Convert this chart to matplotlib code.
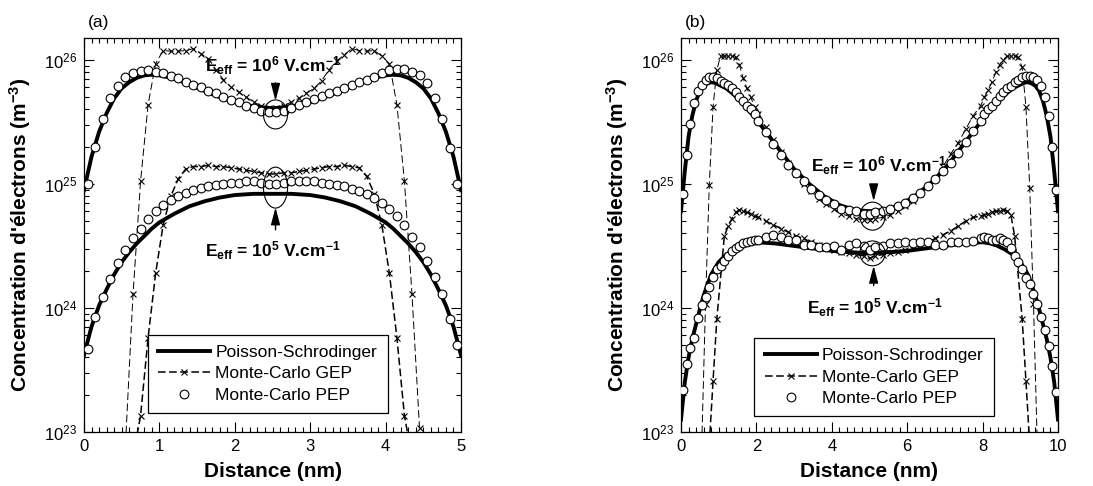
import numpy as np
import matplotlib
matplotlib.use('Agg')
import matplotlib.pyplot as plt
from matplotlib.ticker import MultipleLocator, LogLocator, NullFormatter
from matplotlib.patches import Ellipse

plt.rcParams['font.family'] = ['Liberation Sans', 'DejaVu Sans']
plt.rcParams['mathtext.fontset'] = 'custom'
plt.rcParams['mathtext.rm'] = 'Liberation Sans'
plt.rcParams['mathtext.it'] = 'Liberation Sans:italic'
plt.rcParams['mathtext.bf'] = 'Liberation Sans:bold'
plt.rcParams['lines.scale_dashes'] = False

# ---- panel (a): 5 nm film, values as log10(n / m^-3) ----
a_x_pep = [0.05, 0.15, 0.25, 0.35, 0.45, 0.55, 0.65, 0.75, 0.85, 0.95,
           1.05, 1.15, 1.25, 1.35, 1.45, 1.55, 1.65, 1.75, 1.85, 1.95,
           2.05, 2.15, 2.25, 2.35, 2.45, 2.55, 2.65, 2.75, 2.85, 2.95,
           3.05, 3.15, 3.25, 3.35, 3.45, 3.55, 3.65, 3.75, 3.85, 3.95,
           4.05, 4.15, 4.25, 4.35, 4.45, 4.55, 4.65, 4.75, 4.85, 4.95]
a_pep_hi = [25.00, 25.30, 25.52, 25.69, 25.79, 25.86, 25.89, 25.91, 25.92, 25.90,
            25.89, 25.87, 25.85, 25.82, 25.80, 25.78, 25.75, 25.73, 25.70, 25.68,
            25.66, 25.63, 25.61, 25.59, 25.58, 25.58, 25.59, 25.61, 25.64, 25.66,
            25.685, 25.71, 25.73, 25.75, 25.77, 25.80, 25.82, 25.84, 25.865, 25.89,
            25.92, 25.93, 25.925, 25.905, 25.88, 25.81, 25.69, 25.52, 25.29, 25.00]
a_pep_lo = [23.67, 23.93, 24.09, 24.23, 24.36, 24.47, 24.56, 24.64, 24.72, 24.78,
            24.83, 24.87, 24.90, 24.93, 24.95, 24.97, 24.98, 24.99, 25.00, 25.01,
            25.01, 25.02, 25.02, 25.01, 25.00, 25.00, 25.01, 25.02, 25.02, 25.02,
            25.02, 25.01, 25.00, 24.99, 24.98, 24.96, 24.94, 24.92, 24.89, 24.85,
            24.80, 24.74, 24.67, 24.57, 24.49, 24.38, 24.25, 24.11, 23.91, 23.70]

a_x_ps_hi = [0.0, 0.1, 0.2, 0.3, 0.4, 0.5, 0.6, 0.7, 0.8, 0.9, 1.0,
             1.2, 1.4, 1.6, 1.8, 2.0, 2.2, 2.4, 2.5, 2.6, 2.8, 3.0, 3.2, 3.4, 3.6, 3.8,
             4.0, 4.1, 4.2, 4.3, 4.4, 4.5, 4.6, 4.7, 4.8, 4.9, 5.0]
a_ps_hi = [24.95, 25.22, 25.42, 25.57, 25.69, 25.77, 25.82, 25.855, 25.875, 25.88, 25.875,
           25.85, 25.80, 25.75, 25.70, 25.66, 25.63, 25.615, 25.61, 25.615, 25.63, 25.66,
           25.70, 25.75, 25.80, 25.85,
           25.875, 25.88, 25.875, 25.855, 25.82, 25.77, 25.69, 25.57, 25.42, 25.22, 24.95]
a_x_ps_lo = [0.0, 0.1, 0.2, 0.3, 0.4, 0.5, 0.6, 0.7, 0.8, 0.9, 1.0,
             1.2, 1.4, 1.6, 1.8, 2.0, 2.25, 2.5, 2.75, 3.0, 3.2, 3.4, 3.6, 3.8,
             4.0, 4.1, 4.2, 4.3, 4.4, 4.5, 4.6, 4.7, 4.8, 4.9, 5.0]
a_ps_lo = [23.62, 23.85, 24.02, 24.15, 24.27, 24.37, 24.45, 24.52, 24.58, 24.64, 24.69,
           24.76, 24.82, 24.86, 24.89, 24.91, 24.92, 24.92, 24.92, 24.91, 24.89, 24.86,
           24.82, 24.76,
           24.69, 24.64, 24.58, 24.52, 24.45, 24.37, 24.27, 24.15, 24.02, 23.85, 23.62]

a_x_gep_hi = [0.55, 0.65, 0.75, 0.85, 0.95, 1.05, 1.15, 1.25, 1.35, 1.45,
              1.55, 1.65, 1.75, 1.85, 1.95, 2.05, 2.15, 2.25, 2.35, 2.45,
              2.55, 2.65, 2.75, 2.85, 2.95, 3.05, 3.15, 3.25, 3.35, 3.45,
              3.55, 3.65, 3.75, 3.85, 3.95, 4.05, 4.15, 4.25, 4.35, 4.45]
a_gep_hi = [22.9, 24.11, 25.02, 25.64, 25.97, 26.075, 26.07, 26.07, 26.075, 26.09,
            26.05, 26.01, 25.92, 25.84, 25.78, 25.74, 25.70, 25.66, 25.63, 25.61,
            25.61, 25.63, 25.66, 25.69, 25.73, 25.77, 25.83, 25.92, 25.99, 26.04,
            26.09, 26.075, 26.07, 26.075, 26.03, 25.97, 25.64, 25.02, 24.11, 23.03]
a_x_gep_lo = [0.65, 0.75, 0.85, 0.95, 1.05, 1.15, 1.25, 1.35, 1.45, 1.55,
              1.65, 1.75, 1.85, 1.95, 2.05, 2.15, 2.25, 2.35, 2.45, 2.55,
              2.65, 2.75, 2.85, 2.95, 3.05, 3.15, 3.25, 3.35, 3.45, 3.55,
              3.65, 3.75, 3.85, 3.95, 4.05, 4.15, 4.25, 4.35]
a_gep_lo = [22.8, 23.13, 23.76, 24.28, 24.67, 24.90, 25.04, 25.12, 25.14, 25.14,
            25.15, 25.14, 25.14, 25.13, 25.12, 25.11, 25.10, 25.09, 25.08, 25.08,
            25.09, 25.09, 25.10, 25.11, 25.12, 25.13, 25.14, 25.14, 25.15, 25.14,
            25.13, 25.06, 24.92, 24.67, 24.28, 23.76, 23.13, 22.8]

# ---- panel (b): 10 nm film ----
b_x_pep = [0.05, 0.15, 0.25, 0.35, 0.45, 0.55, 0.65, 0.75, 0.85, 0.95,
           1.05, 1.15, 1.25, 1.35, 1.45, 1.55, 1.65, 1.75, 1.85, 1.95, 2.05,
           2.25, 2.45, 2.65, 2.85, 3.05, 3.25, 3.45, 3.65, 3.85, 4.05, 4.25, 4.45, 4.65, 4.85,
           5.0,
           5.15, 5.35, 5.55, 5.75, 5.95, 6.15, 6.35, 6.55, 6.75, 6.95, 7.15, 7.35, 7.55, 7.75,
           7.95, 8.05, 8.15, 8.25, 8.35, 8.45, 8.55, 8.65, 8.75, 8.85,
           8.95, 9.05, 9.15, 9.25, 9.35, 9.45, 9.55, 9.65, 9.75, 9.85, 9.95]
b_pep_hi = [24.92, 25.23, 25.48, 25.65, 25.75, 25.80, 25.84, 25.86, 25.86, 25.85,
            25.83, 25.815, 25.795, 25.77, 25.74, 25.70, 25.67, 25.63, 25.60, 25.56, 25.51,
            25.42, 25.32, 25.23, 25.15, 25.09, 25.02, 24.96, 24.91, 24.87, 24.84, 24.80,
            24.79, 24.78, 24.76,
            24.76,
            24.77, 24.78, 24.80, 24.82, 24.85, 24.89, 24.93, 24.98, 25.04, 25.10, 25.17,
            25.25, 25.34, 25.43,
            25.51, 25.56, 25.60, 25.63, 25.67, 25.71, 25.74, 25.77, 25.79, 25.82,
            25.84, 25.86, 25.87, 25.87, 25.86, 25.84, 25.79, 25.70, 25.55, 25.30, 24.95]
b_pep_lo = [23.34, 23.55, 23.68, 23.76, 23.92, 24.02, 24.09, 24.17, 24.25, 24.31,
            24.34, 24.38, 24.42, 24.46, 24.48, 24.50, 24.52, 24.53, 24.54, 24.55, 24.55,
            24.575, 24.59, 24.57, 24.55, 24.55, 24.51, 24.51, 24.49, 24.49, 24.50, 24.47,
            24.51, 24.52, 24.50,
            24.47,
            24.49, 24.50, 24.52, 24.52, 24.53, 24.52, 24.535, 24.53, 24.51, 24.51, 24.53,
            24.53, 24.53, 24.54,
            24.56, 24.575, 24.56, 24.55, 24.55, 24.56, 24.55, 24.53, 24.48, 24.42,
            24.37, 24.31, 24.24, 24.19, 24.11, 24.03, 23.93, 23.82, 23.69, 23.53, 23.32]

b_x_ps_hi = [0.0, 0.1, 0.2, 0.3, 0.4, 0.5, 0.6, 0.7, 0.8, 0.9, 1.0,
             1.2, 1.4, 1.6, 1.8, 2.0, 2.2, 2.4, 2.6, 2.8, 3.0,
             3.4, 3.8, 4.2, 4.6, 5.0, 5.4, 5.8, 6.2, 6.6,
             7.0, 7.2, 7.4, 7.6, 7.8, 8.0, 8.2, 8.4, 8.6, 8.8,
             9.0, 9.1, 9.2, 9.3, 9.4, 9.5, 9.6, 9.7, 9.8, 9.9, 10.0]
b_ps_hi = [24.78, 25.10, 25.38, 25.55, 25.67, 25.75, 25.79, 25.81, 25.82, 25.815, 25.80,
           25.77, 25.72, 25.66, 25.59, 25.52, 25.44, 25.36, 25.28, 25.20, 25.12,
           25.00, 24.90, 24.83, 24.79, 24.78, 24.79, 24.83, 24.90, 25.00,
           25.12, 25.20, 25.28, 25.36, 25.44, 25.52, 25.59, 25.66, 25.72, 25.77,
           25.80, 25.815, 25.82, 25.81, 25.79, 25.75, 25.67, 25.55, 25.38, 25.10, 24.78]
b_x_ps_lo = [0.0, 0.1, 0.2, 0.3, 0.4, 0.5, 0.6, 0.8, 1.0, 1.2, 1.4, 1.6, 1.8, 2.0,
             2.5, 3.0, 3.5, 4.0, 4.5, 5.0, 5.5, 6.0, 6.5, 7.0, 7.5,
             8.0, 8.2, 8.4, 8.6, 8.8, 9.0, 9.2, 9.4, 9.5, 9.6, 9.7, 9.8, 9.9, 10.0]
b_ps_lo = [23.10, 23.40, 23.60, 23.75, 23.87, 23.99, 24.10, 24.27, 24.37, 24.43, 24.47,
           24.50, 24.52, 24.53,
           24.52, 24.50, 24.48, 24.46, 24.45, 24.44, 24.45, 24.46, 24.48, 24.50, 24.52,
           24.53, 24.52, 24.50, 24.47, 24.43, 24.37, 24.27, 24.10, 23.99, 23.87, 23.75,
           23.60, 23.40, 23.10]

b_x_gep_hi = [0.55, 0.65, 0.75, 0.85, 0.95, 1.05, 1.15, 1.25, 1.35, 1.45,
              1.55, 1.65, 1.75, 1.85, 1.95, 2.05,
              2.25, 2.45, 2.65, 2.85, 3.05, 3.25, 3.45, 3.65, 3.85, 4.05, 4.25, 4.45, 4.65, 4.85,
              5.0,
              5.15, 5.35, 5.55, 5.75, 5.95, 6.15, 6.35, 6.55, 6.75, 6.95, 7.15, 7.35, 7.55, 7.75,
              7.95, 8.05, 8.15, 8.25, 8.35, 8.45, 8.55, 8.65, 8.75, 8.85,
              8.95, 9.05, 9.15, 9.25, 9.35, 9.45]
b_gep_hi = [22.9, 24.03, 24.99, 25.62, 25.92, 26.03, 26.03, 26.03, 26.03, 26.02,
            25.96, 25.85, 25.77, 25.70, 25.62, 25.56,
            25.46, 25.35, 25.26, 25.17, 25.08, 25.00, 24.94, 24.88, 24.84, 24.80, 24.76,
            24.74, 24.72, 24.71,
            24.71,
            24.72, 24.73, 24.75, 24.78, 24.82, 24.86, 24.92, 24.98, 25.05, 25.14, 25.24,
            25.33, 25.44, 25.55,
            25.63, 25.70, 25.76, 25.82, 25.90, 25.96, 26.00, 26.03, 26.03, 26.03,
            26.02, 25.94, 25.62, 24.97, 24.03, 22.9]
b_x_gep_lo = [0.75, 0.85, 0.95, 1.15, 1.25, 1.35, 1.45, 1.55, 1.65, 1.75, 1.85, 1.95, 2.05,
              2.25, 2.45, 2.65, 2.85, 3.05, 3.25, 3.45, 3.65, 3.85, 4.05, 4.25, 4.45, 4.65, 4.85,
              5.0,
              5.15, 5.35, 5.55, 5.75, 5.95, 6.15, 6.35, 6.55, 6.75, 6.95, 7.15, 7.35, 7.55, 7.75,
              7.95, 8.05, 8.15, 8.25, 8.35, 8.45, 8.55, 8.65, 8.75, 8.85, 9.05, 9.15, 9.25]
b_gep_lo = [22.9, 23.41, 23.91, 24.58, 24.66, 24.72, 24.77, 24.79, 24.78, 24.77, 24.76,
            24.74, 24.73,
            24.70, 24.67, 24.64, 24.61, 24.58, 24.56, 24.53, 24.51, 24.49, 24.47, 24.45,
            24.44, 24.43, 24.42,
            24.40,
            24.42, 24.43, 24.44, 24.45, 24.47, 24.49, 24.51, 24.53, 24.56, 24.59, 24.62,
            24.66, 24.70, 24.73,
            24.74, 24.75, 24.76, 24.77, 24.78, 24.78, 24.79, 24.78, 24.75, 24.58,
            23.91, 23.41, 22.9]

labels = ['Poisson-Schrodinger', 'Monte-Carlo GEP', 'Monte-Carlo PEP']
ylo, yhi = 1e23, 1.5e26


def e(v):
    return 10.0 ** np.asarray(v)


def ring(ax, x, logy, w, h):
    # open ellipse drawn in axes fraction so it stays round on the log axis
    x0, x1 = ax.get_xlim()
    l0, l1 = np.log10(ylo), np.log10(yhi)
    ax.add_patch(Ellipse(((x - x0) / (x1 - x0), (logy - l0) / (l1 - l0)),
                         w / (x1 - x0), h / (l1 - l0), transform=ax.transAxes,
                         fill=False, lw=0.8, color='k', zorder=6))


def arrow(ax, x, tail, tip):
    ax.annotate('', xy=(x, 10 ** tip), xytext=(x, 10 ** tail),
                arrowprops=dict(arrowstyle='-|>,head_width=0.2,head_length=0.75',
                                color='k', lw=1.0, mutation_scale=14,
                                shrinkA=0, shrinkB=0), zorder=6)


def field_text(ax, x, logy, power):
    ax.text(x, 10 ** logy,
            r'$\mathbf{E_{eff}}$ = 10$^{\mathbf{%d}}$ V.cm$^{\mathbf{-1}}$' % power,
            fontsize=12.5, fontweight='bold', ha='center', va='center', zorder=6)


def panel(ax, xmax, data, major, minor):
    x_pep, pep_hi, pep_lo, x_ps_hi, ps_hi, x_ps_lo, ps_lo, \
        x_gh, gep_hi, x_gl, gep_lo = data
    ax.plot(x_ps_hi, e(ps_hi), '-', color='k', lw=2.8, zorder=2, label=labels[0])
    ax.plot(x_ps_lo, e(ps_lo), '-', color='k', lw=2.8, zorder=2)
    ax.plot(x_gh, e(gep_hi), color='k', lw=0.7, dashes=(5.5, 2.5), marker='x',
            ms=5, mew=0.8, zorder=3)
    ax.plot(x_gl, e(gep_lo), color='k', lw=1.1, dashes=(5.5, 2.5), marker='x',
            ms=5, mew=0.8, zorder=3, label=labels[1])
    ax.plot(x_pep, e(pep_hi), 'o', ms=6.3, mfc='white', mec='k', mew=0.8, zorder=4,
            label=labels[2])
    ax.plot(x_pep, e(pep_lo), 'o', ms=6.3, mfc='white', mec='k', mew=0.8, zorder=4)

    ax.set_yscale('log')
    ax.set_xlim(0, xmax)
    ax.set_ylim(ylo, yhi)
    ax.xaxis.set_major_locator(MultipleLocator(major))
    ax.xaxis.set_minor_locator(MultipleLocator(minor))
    ax.yaxis.set_major_locator(LogLocator(base=10, numticks=10))
    ax.yaxis.set_minor_locator(LogLocator(base=10, subs=np.arange(2, 10), numticks=20))
    ax.yaxis.set_minor_formatter(NullFormatter())
    ax.tick_params(which='both', direction='in', top=True, right=True,
                   labelsize=12, width=0.8)
    ax.tick_params(which='major', length=7, pad=5)
    ax.tick_params(which='minor', length=3.5)
    for s in ax.spines.values():
        s.set_linewidth(0.9)
    ax.set_xlabel('Distance (nm)', fontsize=15, fontweight='bold', labelpad=6)
    ax.set_ylabel(r"Concentration d'électrons (m$^{\mathbf{-3}}$)",
                  fontsize=15, fontweight='bold', labelpad=8)


fig = plt.figure(figsize=(10.93, 4.86), dpi=100)
ax_a = fig.add_axes([84 / 1093, 54 / 486, 377 / 1093, 394 / 486])
ax_b = fig.add_axes([681 / 1093, 54 / 486, 377 / 1093, 394 / 486])

panel(ax_a, 5, (a_x_pep, a_pep_hi, a_pep_lo, a_x_ps_hi, a_ps_hi, a_x_ps_lo, a_ps_lo,
                a_x_gep_hi, a_gep_hi, a_x_gep_lo, a_gep_lo), 1, 0.1)
panel(ax_b, 10, (b_x_pep, b_pep_hi, b_pep_lo, b_x_ps_hi, b_ps_hi, b_x_ps_lo, b_ps_lo,
                 b_x_gep_hi, b_gep_hi, b_x_gep_lo, b_gep_lo), 2, 0.2)

# annotations, panel (a)
field_text(ax_a, 2.5, 25.95, 6)
arrow(ax_a, 2.54, 25.815, 25.67)
ring(ax_a, 2.54, 25.56, 0.32, 0.234)
ring(ax_a, 2.54, 24.97, 0.32, 0.33)
arrow(ax_a, 2.54, 24.63, 24.81)
field_text(ax_a, 2.5, 24.46, 5)

# annotations, panel (b)
field_text(ax_b, 5.25, 25.15, 6)
arrow(ax_b, 5.11, 24.99, 24.86)
ring(ax_b, 5.08, 24.74, 0.67, 0.226)
ring(ax_b, 5.08, 24.44, 0.67, 0.2)
arrow(ax_b, 5.11, 24.18, 24.34)
field_text(ax_b, 5.15, 24.0, 5)

for ax, anchor in ((ax_a, (0.169, 0.048)), (ax_b, (0.194, 0.04))):
    leg = ax.legend(loc='lower left', bbox_to_anchor=anchor, borderaxespad=0,
                    fontsize=12.5, handlelength=3.0, handletextpad=0.3,
                    borderpad=0.6, labelspacing=0.35, numpoints=1,
                    fancybox=False, framealpha=1, edgecolor='k')
    leg.get_frame().set_linewidth(0.9)
    leg.set_zorder(7)

fig.text(88 / 1093, 1 - 23 / 486, '(a)', fontsize=12.5, va='center', ha='left')
fig.text(685 / 1093, 1 - 22 / 486, '(b)', fontsize=12.5, va='center', ha='left')

fig.savefig('out.png', dpi=100)
